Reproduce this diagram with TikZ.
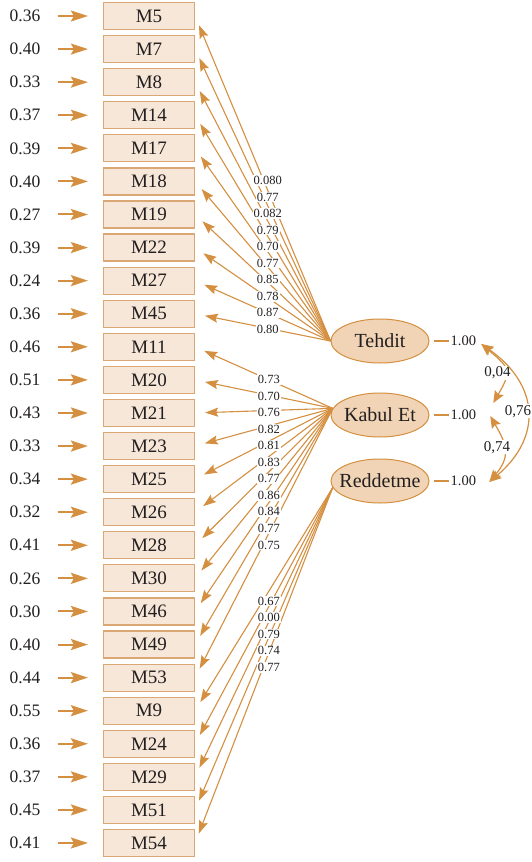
\documentclass[tikz,border=0pt]{standalone}
\usepackage{fontspec}
\setmainfont{Liberation Serif}
\usetikzlibrary{arrows.meta}
\usetikzlibrary{positioning,shapes.geometric}
\definecolor{semorange}{RGB}{212,143,64}
\definecolor{semedge}{RGB}{219,167,116}
\definecolor{semfill}{RGB}{246,231,216}
\definecolor{latfill}{RGB}{241,212,181}
\definecolor{semtext}{RGB}{35,31,32}
\tikzset{
  item/.style={draw=semedge, fill=semfill, line width=1.2pt, minimum width=91pt, minimum height=27pt, inner sep=0pt, font=\fontsize{19}{19}\selectfont},
  latent/.style={ellipse, draw=semorange, fill=latfill, line width=1pt, minimum width=98pt, minimum height=44pt, inner ysep=0pt, inner xsep=-12pt, font=\fontsize{20}{20}\selectfont},
  err/.style={inner sep=0pt, font=\fontsize{17.5}{17.5}\selectfont},
  unit/.style={inner sep=0pt, font=\fontsize{14.5}{14.5}\selectfont},
  coef/.style={fill=white, inner sep=1pt, xshift=5pt, yshift=-2pt, font=\fontsize{12.5}{12.5}\selectfont},
  cor/.style={fill=white, inner sep=1pt, font=\fontsize{15}{15}\selectfont},
  errarrow/.style={draw=semorange, line width=2pt, -{Stealth[length=17pt,width=11pt,inset=3pt]}, shorten <=17pt, shorten >=15pt},
  load/.style={draw=semorange, line width=1.1pt, -{Stealth[length=13pt,width=9pt,inset=2pt]}, shorten >=10pt},
  covar/.style={draw=semorange, line width=1.2pt, {Stealth[length=12pt,width=10pt,inset=2pt]}-{Stealth[length=12pt,width=10pt,inset=2pt]}}
}
% item / error / factor / loading
\newcommand\semrows{M5/0.36/tehdit.west/0.080, M7/0.40/tehdit.west/0.77, M8/0.33/tehdit.west/0.082,
  M14/0.37/tehdit.west/0.79, M17/0.39/tehdit.west/0.70, M18/0.40/tehdit.west/0.77,
  M19/0.27/tehdit.west/0.85, M22/0.39/tehdit.west/0.78, M27/0.24/tehdit.west/0.87,
  M45/0.36/tehdit.west/0.80,
  M11/0.46/kabul.172/0.73, M20/0.51/kabul.172/0.70, M21/0.43/kabul.172/0.76,
  M23/0.33/kabul.172/0.82, M25/0.34/kabul.172/0.81, M26/0.32/kabul.172/0.83,
  M28/0.41/kabul.172/0.77, M30/0.26/kabul.172/0.86, M46/0.30/kabul.172/0.84,
  M49/0.40/kabul.172/0.77, M53/0.44/kabul.172/0.75,
  M9/0.55/reddetme.188/0.67, M24/0.36/reddetme.188/0.00, M29/0.37/reddetme.188/0.79,
  M51/0.45/reddetme.188/0.74, M54/0.41/reddetme.188/0.77}
\begin{document}
\begin{tikzpicture}[x=1pt, y=-1pt, every node/.style={text=semtext}]
  \useasboundingbox (0,0) rectangle (532,862);

  \node [latent] (tehdit) at (380,341) {Tehdit};
  \node [latent, below=29pt of tehdit] (kabul) {Kabul Et};
  \node [latent, below=21pt of kabul] (reddetme) {Reddetme};

  \node [unit, right=21pt of tehdit] (vtehdit) {1.00};
  \node [unit, right=21pt of kabul] (vkabul) {1.00};
  \node [unit, right=21pt of reddetme] (vreddetme) {1.00};
  \draw [semorange, line width=1.2pt, shorten <=4pt, shorten >=2pt] (tehdit.east) -- (vtehdit.west);
  \draw [semorange, line width=1.2pt, shorten <=4pt, shorten >=2pt] (kabul.east) -- (vkabul.west);
  \draw [semorange, line width=1.2pt, shorten <=4pt, shorten >=2pt] (reddetme.east) -- (vreddetme.west);

  % items, errors, loadings
  \foreach \m/\e/\src/\c [count=\i from 0] in \semrows {
    \node [item] (m\i) at (149,{16+33.08*\i}) {\m};
    \node [err] (e\i) at (25,{16+33.08*\i}) {\e};
    \draw [errarrow] (e\i) -- (m\i);
    \draw [load] (\src) -- (m\i.east);
  }
  \foreach \m/\e/\src/\c [count=\i from 0] in \semrows
    \path (\src) -- (m\i.east) node [coef, pos=.5] {\c};

  % covariances
  \coordinate (ctehdit) at ([xshift=5pt, yshift=-3pt]vtehdit.east);
  \coordinate (ckabulup) at ([xshift=17pt, yshift=12pt]vkabul.east);
  \coordinate (ckabuldown) at ([xshift=14pt, yshift=-1pt]vkabul.east);
  \coordinate (creddetme) at ([xshift=13pt, yshift=-1pt]vreddetme.east);
  \draw [covar] (ctehdit) to [out=-40, in=60, looseness=1.6] node [cor, pos=.55, xshift=-8pt] {0,04} (ckabulup);
  \draw [covar] (ckabuldown) to [out=-60, in=50, looseness=1.3] node [cor, pos=.45, xshift=-7pt] {0,74} (creddetme);
  \draw [covar] (ctehdit) to [out=-35, in=40, looseness=1.3] node [cor, pos=.5, xshift=-9pt] {0,76} (creddetme);
\end{tikzpicture}
\end{document}
